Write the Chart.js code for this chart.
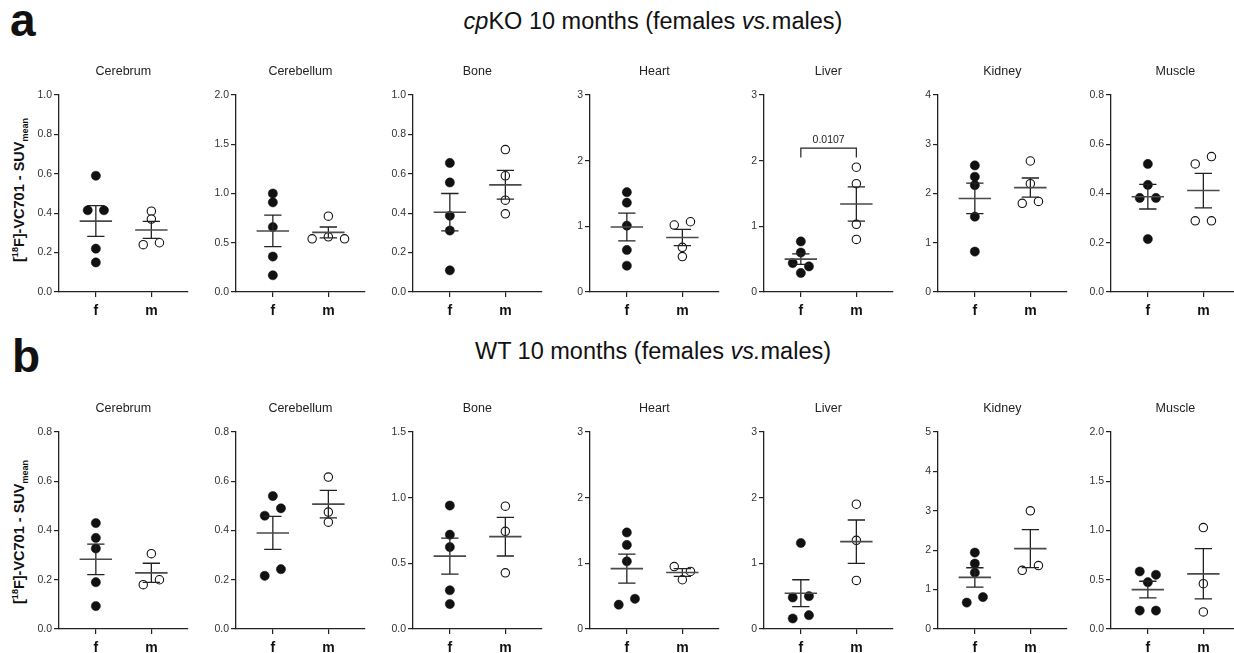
<!DOCTYPE html>
<html>
<head>
<meta charset="utf-8">
<script src="https://cdn.jsdelivr.net/npm/chart.js@4/dist/chart.umd.min.js"></script>
<style>
    body {
        margin: 0;
        width: 1234px;
        height: 653px;
        position: relative;
        overflow: hidden;
        background: #fff;
        font-family: "Liberation Sans", Arial, sans-serif;
        color: #111;
    }
    canvas { position: absolute; }
    .panel_letter { position: absolute; font-weight: bold; font-size: 46px; line-height: 1; }
    .row_title { position: absolute; font-size: 23.5px; line-height: 1.2; white-space: nowrap; transform: translateX(-50%); }
    .y_title {
        position: absolute;
        font-weight: bold;
        font-size: 14.5px;
        white-space: nowrap;
        transform: translate(-50%, -50%) rotate(-90deg);
    }
    .y_title sup, .y_title sub { font-size: 9px; line-height: 0; }
</style>
</head>
<body>
<div class="panel_letter" style="left:10px;top:-3px">a</div>
<div class="row_title" style="left:653px;top:7px"><i>cp</i>KO 10 months (females <i>vs.</i>males)</div>
<div class="y_title" style="left:19px;top:190px">[<sup>18</sup>F]-VC701 - SUV<sub>mean</sub></div>

<div class="panel_letter" style="left:12px;top:333px">b</div>
<div class="row_title" style="left:653px;top:337px">WT 10 months (females <i>vs.</i>males)</div>
<div class="y_title" style="left:19px;top:532px">[<sup>18</sup>F]-VC701 - SUV<sub>mean</sub></div>

<div id="charts"></div>

<script>
const organs = ["Cerebrum", "Cerebellum", "Bone", "Heart", "Liver", "Kidney", "Muscle"];
const groupLabels = ["f", "m"];

// a) cpKO 10 months
const cpkoYMax = [1.0, 2.0, 1.0, 3, 3, 4, 0.8];
const cpkoYStep = [0.2, 0.5, 0.2, 1, 1, 1, 0.2];
const cpkoFemale = [
    [0.59, 0.415, 0.415, 0.22, 0.15],
    [1.0, 0.91, 0.66, 0.36, 0.17],
    [0.655, 0.556, 0.387, 0.312, 0.11],
    [1.52, 1.36, 1.01, 0.64, 0.40],
    [0.77, 0.60, 0.44, 0.39, 0.29],
    [2.57, 2.34, 2.17, 1.53, 0.82],
    [0.52, 0.435, 0.382, 0.382, 0.215]
];
const cpkoMale = [
    [0.41, 0.37, 0.24, 0.25],
    [0.77, 0.54, 0.56, 0.54],
    [0.723, 0.59, 0.466, 0.397],
    [1.02, 1.07, 0.68, 0.54],
    [1.90, 1.65, 1.03, 0.80],
    [2.66, 2.20, 1.80, 1.84],
    [0.52, 0.55, 0.289, 0.289]
];
const cpkoFemaleMean = [0.36, 0.62, 0.405, 0.99, 0.50, 1.90, 0.387];
const cpkoFemaleSem = [0.078, 0.16, 0.095, 0.21, 0.08, 0.31, 0.05];
const cpkoMaleMean = [0.315, 0.605, 0.544, 0.83, 1.34, 2.12, 0.412];
const cpkoMaleSem = [0.043, 0.055, 0.073, 0.125, 0.26, 0.195, 0.07];

// b) WT 10 months
const wtYMax = [0.8, 0.8, 1.5, 3, 3, 5, 2.0];
const wtYStep = [0.2, 0.2, 0.5, 1, 1, 1, 0.5];
const wtFemale = [
    [0.43, 0.37, 0.327, 0.19, 0.093],
    [0.54, 0.46, 0.49, 0.216, 0.243],
    [0.94, 0.718, 0.624, 0.295, 0.19],
    [1.47, 1.28, 1.03, 0.37, 0.46],
    [1.31, 0.48, 0.50, 0.16, 0.21],
    [1.94, 1.66, 1.43, 0.67, 0.81],
    [0.584, 0.55, 0.475, 0.187, 0.187]
];
const wtMale = [
    [0.306, 0.18, 0.20],
    [0.617, 0.475, 0.434],
    [0.935, 0.744, 0.428],
    [0.95, 0.876, 0.75],
    [1.90, 1.35, 0.74],
    [3.0, 1.49, 1.61],
    [1.03, 0.46, 0.173]
];
const wtFemaleMean = [0.283, 0.39, 0.555, 0.92, 0.545, 1.31, 0.40];
const wtFemaleSem = [0.062, 0.067, 0.137, 0.22, 0.205, 0.245, 0.085];
const wtMaleMean = [0.228, 0.507, 0.703, 0.86, 1.33, 2.04, 0.56];
const wtMaleSem = [0.039, 0.056, 0.147, 0.06, 0.33, 0.48, 0.255];

// significance bracket, cpKO liver
const liverPValue = "0.0107";
const liverBracketTop = 2.19;
const liverBracketFoot = 2.05;

// layout
const PANEL_LEFT = [59, 236, 413, 590, 764, 938, 1111];
const ROW_TOP = [60, 397];
const AXIS_WIDTH = 44;
const PLOT_WIDTH = 131;
const PLOT_HEIGHT = 197;
const X_AXIS_HEIGHT = 30;
const CANVAS_HEIGHT = 262;
const PX_PER_GROUP = 56.5;
const X_MIN = 1 - 37.5 / PX_PER_GROUP;
const X_MAX = X_MIN + PLOT_WIDTH / PX_PER_GROUP;
const DOT_STEP = 16.5 / PX_PER_GROUP;   // side by side dots
const GROUP_PX = 7.5;                    // closer than this -> same row
const MEAN_HALF = 16.5 / PX_PER_GROUP;
const CAP_HALF = 8.8 / PX_PER_GROUP;
const FONT = "'Liberation Sans', Arial, sans-serif";

const pValuePlugin = {
    id: 'pValue',
    afterDatasetsDraw(chart, args, opts) {
        if (!opts || !opts.text) return;
        const { ctx, scales: { x, y } } = chart;
        ctx.save();
        ctx.font = "10.5px " + FONT;
        ctx.fillStyle = "#222";
        ctx.textAlign = "center";
        ctx.textBaseline = "bottom";
        ctx.fillText(opts.text, x.getPixelForValue(1.5), y.getPixelForValue(opts.y) - 3);
        ctx.restore();
    }
};

function spreadPoints(values, center, yMax) {
    const unitPx = PLOT_HEIGHT / yMax;
    const order = values.map((v, i) => i).sort((a, b) => values[b] - values[a]);
    const xs = [];
    let i = 0;
    while (i < order.length) {
        let row = [order[i]];
        let j = i + 1;
        while (j < order.length && (values[order[i]] - values[order[j]]) * unitPx < GROUP_PX) {
            row.push(order[j]);
            j++;
        }
        row.sort((a, b) => a - b);
        row.forEach((idx, k) => {
            xs[idx] = center + (k - (row.length - 1) / 2) * DOT_STEP;
        });
        i = j;
    }
    return values.map((v, idx) => ({ x: xs[idx], y: v }));
}

function getMeanLines(fMean, mMean) {
    return [
        { x: 1 - MEAN_HALF, y: fMean }, { x: 1 + MEAN_HALF, y: fMean }, { x: 1.5, y: null },
        { x: 2 - MEAN_HALF, y: mMean }, { x: 2 + MEAN_HALF, y: mMean }
    ];
}

function getSemLines(center, mean, sem) {
    return [
        { x: center, y: mean - sem }, { x: center, y: mean + sem }, { x: center, y: null },
        { x: center - CAP_HALF, y: mean + sem }, { x: center + CAP_HALF, y: mean + sem }, { x: center, y: null },
        { x: center - CAP_HALF, y: mean - sem }, { x: center + CAP_HALF, y: mean - sem }, { x: center, y: null }
    ];
}

function formatTick(value, step) {
    return step < 1 ? value.toFixed(1) : Math.round(value).toString();
}

function drawPanel(row, col, panel) {
    const canvas = document.createElement('canvas');
    canvas.width = AXIS_WIDTH + PLOT_WIDTH + 3;
    canvas.height = CANVAS_HEIGHT;
    canvas.style.left = (PANEL_LEFT[col] - AXIS_WIDTH) + "px";
    canvas.style.top = ROW_TOP[row] + "px";
    document.getElementById('charts').appendChild(canvas);

    let datasets = [
        {
            type: 'line',
            data: getMeanLines(panel.fMean, panel.mMean),
            borderColor: "#4a4a4a",
            borderWidth: 1.6,
            pointRadius: 0,
            spanGaps: false
        },
        {
            type: 'line',
            data: getSemLines(1, panel.fMean, panel.fSem).concat(getSemLines(2, panel.mMean, panel.mSem)),
            borderColor: "#222",
            borderWidth: 1.3,
            pointRadius: 0,
            spanGaps: false
        },
        {
            data: spreadPoints(panel.female, 1, panel.yMax),
            pointRadius: 4.6,
            pointBackgroundColor: "#111",
            pointBorderColor: "#111",
            pointBorderWidth: 0.5
        },
        {
            data: spreadPoints(panel.male, 2, panel.yMax),
            pointRadius: 4.2,
            pointBackgroundColor: "#fff",
            pointBorderColor: "#111",
            pointBorderWidth: 1.1
        }
    ];

    if (panel.bracket) {
        datasets.unshift({
            type: 'line',
            data: [
                { x: 1, y: panel.bracket.foot }, { x: 1, y: panel.bracket.top },
                { x: 2, y: panel.bracket.top }, { x: 2, y: panel.bracket.foot }
            ],
            borderColor: "#222",
            borderWidth: 1.2,
            pointRadius: 0
        });
    }

    new Chart(canvas, {
        type: 'scatter',
        data: { datasets: datasets },
        options: {
            responsive: false,
            animation: false,
            events: [],
            layout: { padding: { top: 0, right: 3, bottom: 0, left: 0 } },
            plugins: {
                legend: { display: false },
                tooltip: { enabled: false },
                title: {
                    display: true,
                    fullSize: false,
                    text: panel.title,
                    color: "#222",
                    font: { family: FONT, size: 12.5, weight: 'normal' },
                    padding: { top: 4.5, bottom: 15.5 }
                },
                pValue: panel.bracket ? { text: panel.bracket.text, y: panel.bracket.top } : {}
            },
            scales: {
                x: {
                    type: 'linear',
                    min: X_MIN,
                    max: X_MAX,
                    afterBuildTicks: scale => { scale.ticks = [{ value: 1 }, { value: 2 }]; },
                    afterFit: scale => { scale.height = X_AXIS_HEIGHT; },
                    ticks: {
                        autoSkip: false,
                        maxRotation: 0,
                        padding: 6,
                        color: "#111",
                        font: { family: FONT, size: 14, weight: 'bold' },
                        callback: value => groupLabels[value - 1]
                    },
                    grid: { drawOnChartArea: false, drawTicks: true, tickLength: 5, color: "#222", lineWidth: 1.2 },
                    border: { display: true, color: "#222", width: 1.3 }
                },
                y: {
                    min: 0,
                    max: panel.yMax,
                    afterFit: scale => { scale.width = AXIS_WIDTH; },
                    ticks: {
                        stepSize: panel.yStep,
                        padding: 2,
                        color: "#333",
                        font: { family: FONT, size: 10.5 },
                        callback: value => formatTick(value, panel.yStep)
                    },
                    grid: { drawOnChartArea: false, drawTicks: true, tickLength: 5, color: "#222", lineWidth: 1.2 },
                    border: { display: true, color: "#222", width: 1.3 }
                }
            }
        },
        plugins: [pValuePlugin]
    });
}

function renderRow(row, yMax, yStep, female, male, fMean, fSem, mMean, mSem) {
    organs.forEach((organ, i) => {
        let panel = {
            title: organ,
            yMax: yMax[i],
            yStep: yStep[i],
            female: female[i],
            male: male[i],
            fMean: fMean[i],
            fSem: fSem[i],
            mMean: mMean[i],
            mSem: mSem[i]
        };
        if (row == 0 && organ == "Liver") {
            panel.bracket = { top: liverBracketTop, foot: liverBracketFoot, text: liverPValue };
        }
        drawPanel(row, i, panel);
    });
}

renderRow(0, cpkoYMax, cpkoYStep, cpkoFemale, cpkoMale, cpkoFemaleMean, cpkoFemaleSem, cpkoMaleMean, cpkoMaleSem);
renderRow(1, wtYMax, wtYStep, wtFemale, wtMale, wtFemaleMean, wtFemaleSem, wtMaleMean, wtMaleSem);
</script>
</body>
</html>
